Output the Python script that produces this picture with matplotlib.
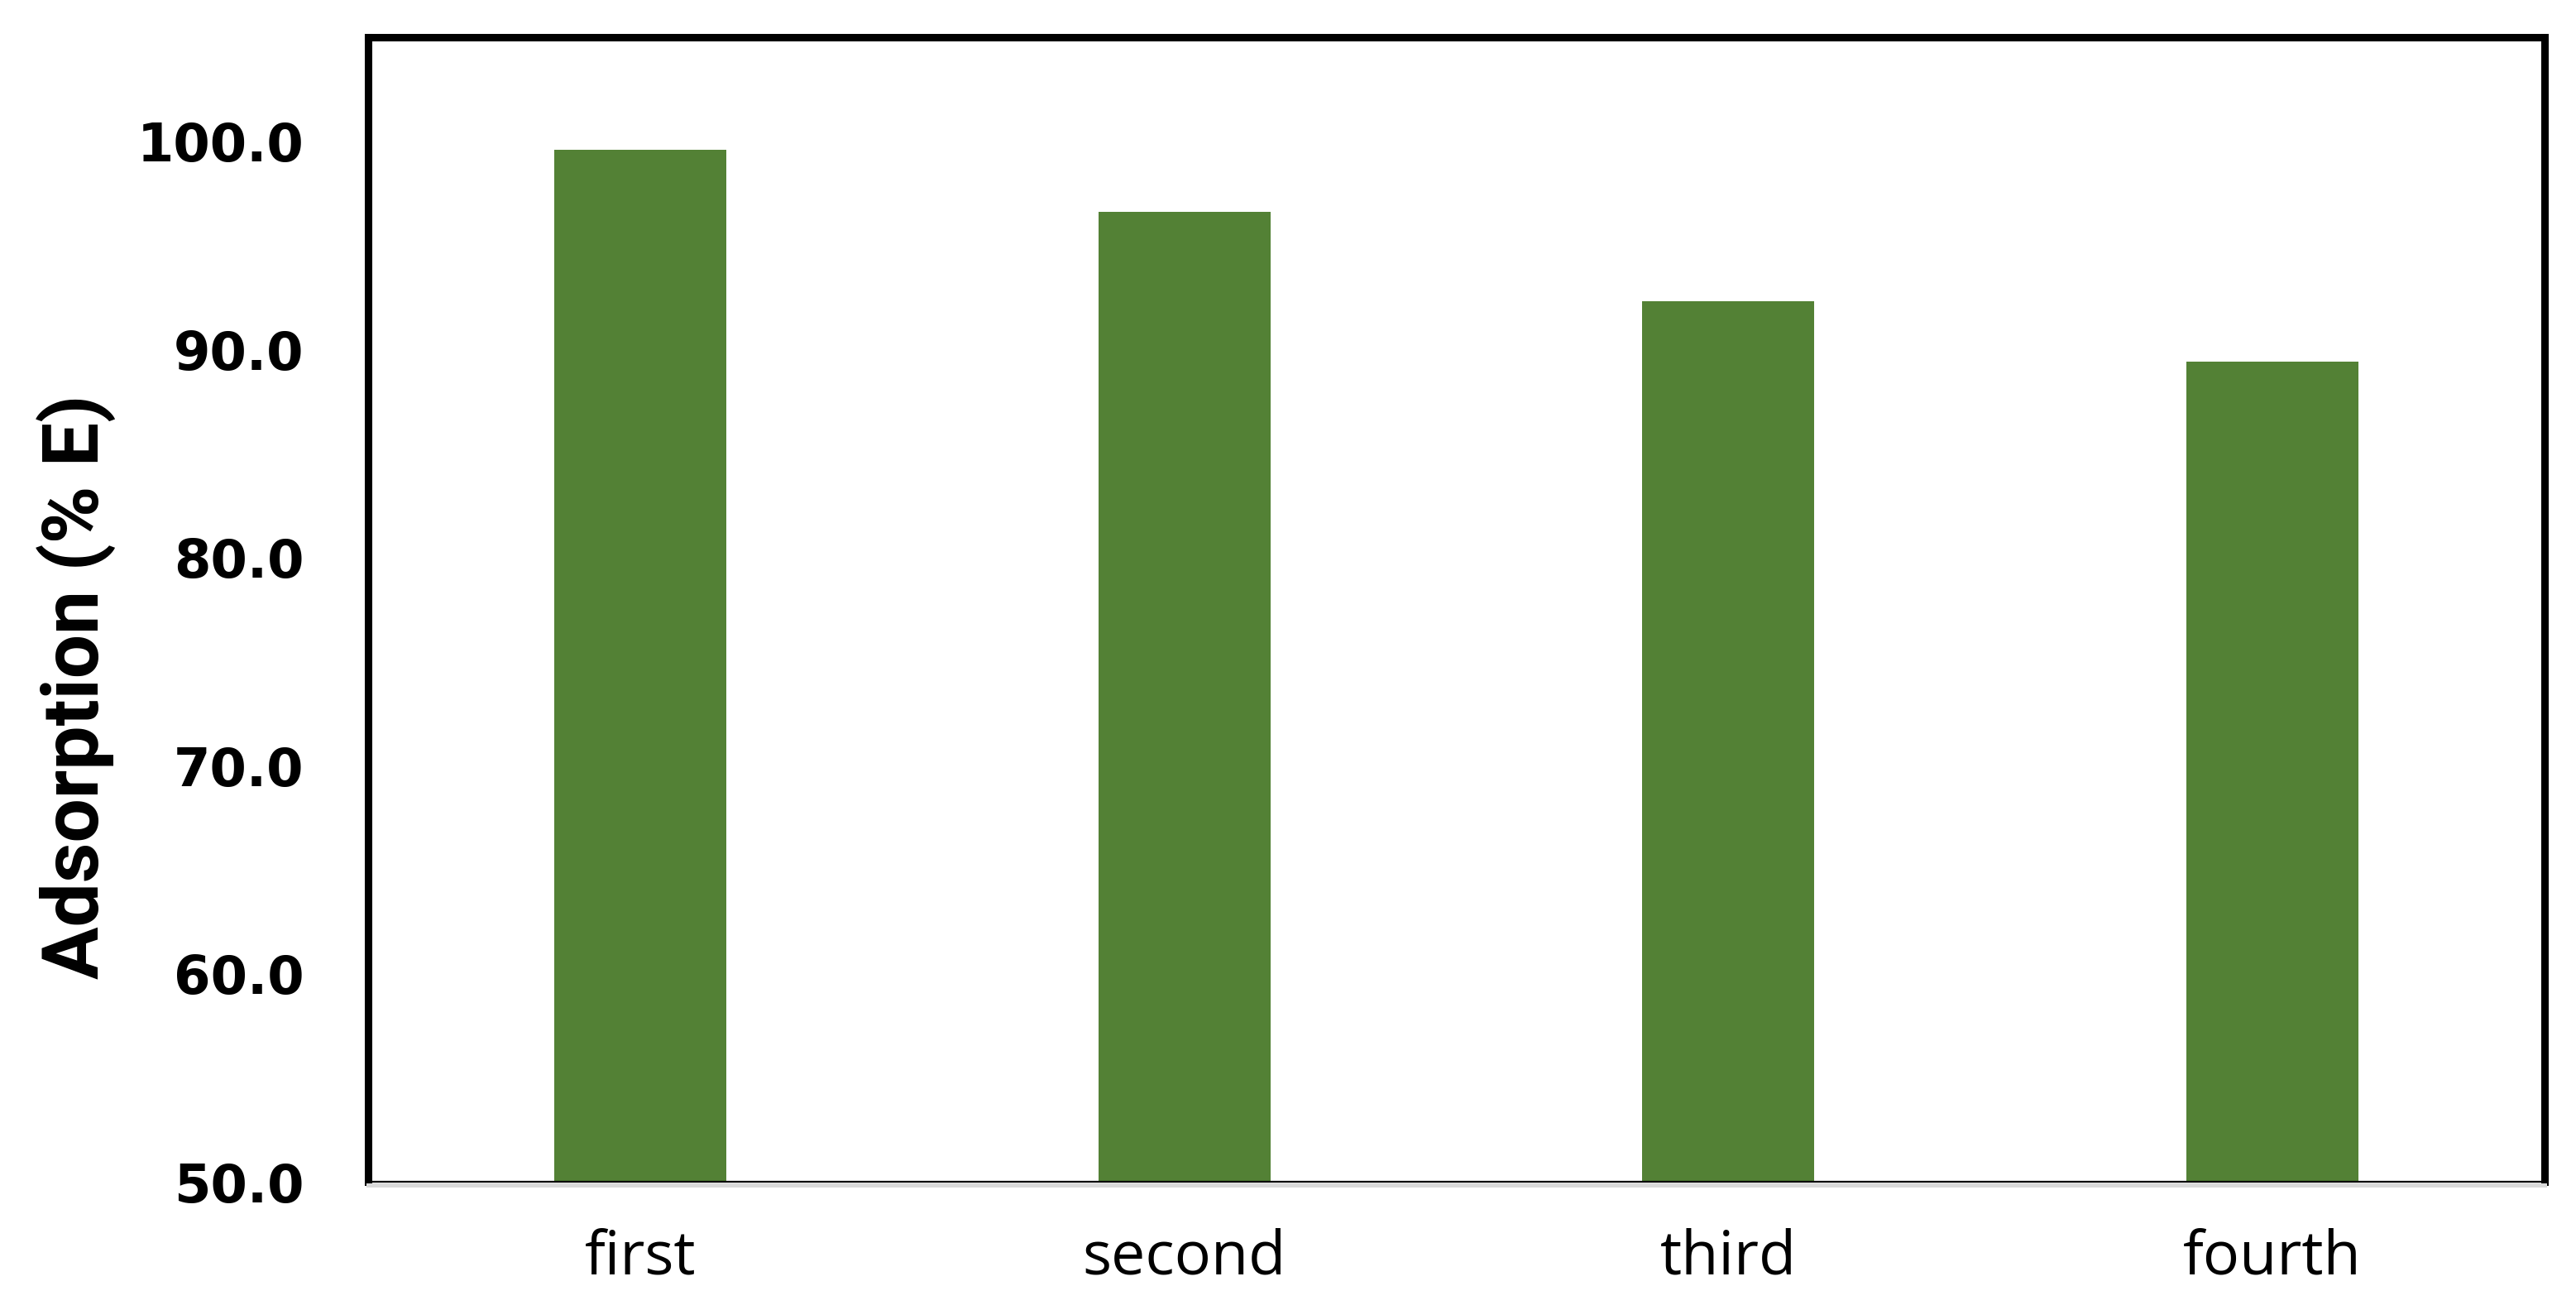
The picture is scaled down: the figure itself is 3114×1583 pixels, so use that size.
import matplotlib
matplotlib.use("Agg")
import matplotlib.pyplot as plt
from matplotlib.lines import Line2D
import numpy as np

# data
cycles = ["first", "second", "third", "fourth"]
adsorption = [99.6, 96.6, 92.3, 89.4]
yticks = [50, 60, 70, 80, 90, 100]

W, H = 3114, 1583
fig = plt.figure(figsize=(W / 100, H / 100), dpi=100)
ax = fig.add_axes([445 / W, 1 - 1428 / H, (3076 - 445) / W, (1428 - 45) / H])

x = np.arange(len(cycles))
ax.bar(x, adsorption, width=0.316, color="#538135", zorder=2)

ax.set_xlim(-0.5, len(cycles) - 0.5)
ax.set_ylim(50, 105)
ax.set_yticks(yticks)
ax.set_yticklabels([f"{v:.1f}" for v in yticks], fontsize=46,
                   fontweight="bold", family="DejaVu Sans")
ax.set_xticks(x)
ax.set_xticklabels(cycles, fontsize=53, family=["Open Sans", "DejaVu Sans"])
ax.tick_params(axis="y", length=0, pad=56)
ax.tick_params(axis="x", length=0, pad=40)

for side in ["top", "left", "right"]:
    ax.spines[side].set_linewidth(6.5)
    ax.spines[side].set_color("black")
ax.spines["bottom"].set_linewidth(1.6)
ax.spines["bottom"].set_color("black")

# light grey axis line just under the frame
fig.add_artist(Line2D([445 / W, 3076 / W], [1 - 1431.5 / H, 1 - 1431.5 / H],
                      transform=fig.transFigure, color="#d9d9d9", lw=3.6))

fig.text(92 / W, 1 - 830 / H, "Adsorption (% E)", rotation=90,
         ha="center", va="center", fontsize=68, fontweight="bold",
         family=["Roboto", "DejaVu Sans"])

fig.savefig("out.png", dpi=100, facecolor="white")
